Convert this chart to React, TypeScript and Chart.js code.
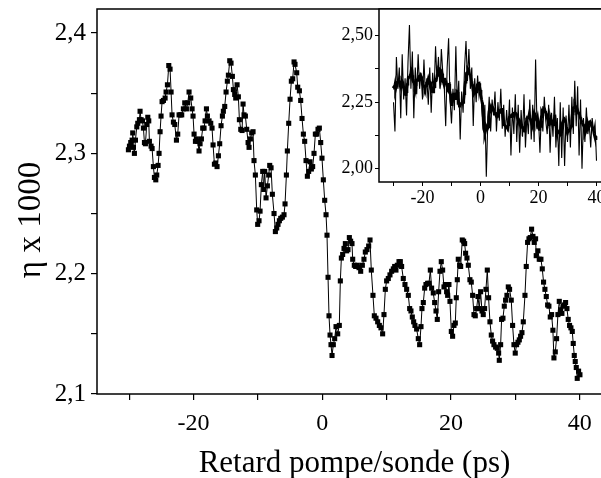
import React, { useEffect, useRef } from 'react';
import { Chart, registerables } from 'chart.js';

Chart.register(...registerables);

// ---- Main series: η x 1000 vs pump/probe delay (ps) ----
const mainX = [
  -30.12,-29.96,-29.76,-29.55,-29.45,-29.34,-29.19,-29.03,-28.82,-28.67,
  -28.41,-28.31,-28.15,-27.94,-27.79,-27.63,-27.48,-27.27,-27.11,-26.96,
  -26.86,-26.60,-26.44,-26.24,-26.08,-25.87,-25.72,-25.51,-25.36,-25.20,
  -25.05,-24.89,-24.68,-24.42,-24.27,-24.06,-23.85,-23.65,-23.49,-23.34,
  -23.13,-22.92,-22.66,-22.46,-22.25,-22.04,-21.84,-21.58,-21.37,-21.11,
  -20.90,-20.70,-20.44,-20.23,-20.08,-19.92,-19.71,-19.56,-19.35,-19.15,
  -18.99,-18.78,-18.58,-18.37,-18.21,-18.00,-17.85,-17.59,-17.33,-17.13,
  -16.97,-16.76,-16.56,-16.35,-16.14,-15.94,-15.73,-15.52,-15.37,-15.16,
  -14.95,-14.75,-14.59,-14.38,-14.18,-13.97,-13.81,-13.61,-13.45,-13.24,
  -13.04,-12.88,-12.67,-12.47,-12.31,-12.16,-11.95,-11.74,-11.53,-11.38,
  -11.17,-10.97,-10.76,-10.61,-10.40,-10.19,-10.04,-9.83,-9.67,-9.47,
  -9.26,-9.10,-8.95,-8.74,-8.53,-8.33,-8.17,-7.96,-7.76,-7.50,
  -7.29,-7.08,-6.88,-6.67,-6.46,-6.20,-5.95,-5.79,-5.58,-5.43,
  -5.22,-5.01,-4.81,-4.60,-4.39,-4.24,-3.98,-3.82,-3.56,-3.36,
  -3.15,-2.94,-2.74,-2.53,-2.32,-2.12,-1.91,-1.70,-1.50,-1.29,
  -1.08,-0.87,-0.67,-0.46,-0.25,-0.05,0.16,0.37,0.58,0.73,
  0.89,1.04,1.20,1.35,1.51,
  1.71,1.92,2.13,2.39,2.64,2.80,2.96,3.16,3.37,3.58,
  3.78,3.99,4.20,4.40,4.61,4.72,4.97,5.18,5.44,5.70,
  5.96,6.22,6.47,6.68,6.94,7.20,7.41,7.61,7.87,8.08,
  8.34,8.60,8.86,9.11,9.37,9.58,9.79,9.99,10.25,10.51,
  10.77,11.03,11.24,11.44,11.65,11.91,12.12,12.32,12.58,12.84,
  13.10,13.36,13.57,13.77,13.98,14.19,14.39,14.65,14.91,15.12,
  15.33,15.48,15.69,15.90,16.10,16.36,16.57,16.78,16.98,17.24,
  17.45,17.66,17.86,18.07,18.28,18.48,18.69,18.90,19.10,19.31,
  19.47,19.67,19.83,20.04,20.24,20.45,20.66,20.81,20.97,21.12,
  21.33,21.49,21.74,21.95,22.11,22.26,22.47,22.68,22.93,23.14,
  23.35,23.56,23.76,23.97,24.18,24.38,24.59,24.80,25.00,25.21,
  25.42,25.63,25.83,26.04,26.25,26.45,26.66,26.92,27.18,27.39,
  27.49,27.70,27.85,28.06,28.27,28.47,28.68,28.89,29.09,29.35,
  29.56,29.77,29.97,30.18,30.39,30.60,30.80,31.01,31.22,31.48,
  31.68,31.89,32.10,32.30,32.51,32.72,32.92,33.13,33.23,33.49,
  33.70,33.96,34.17,34.37,34.58,34.79,35.00,35.20,35.41,35.62,
  35.82,35.98,36.19,36.39,36.60,36.81,37.01,37.22,37.43,37.63,
  37.79,38.00,38.20,38.41,38.62,38.83,38.98,39.14,39.29,39.45,
  39.60,39.81,40.02,
];

const mainY = [
  2.303,2.306,2.309,2.311,2.317,2.305,2.300,2.311,2.322,2.325,
  2.328,2.335,2.328,2.327,2.321,2.309,2.308,2.324,2.330,2.327,
  2.310,2.306,2.304,2.289,2.280,2.278,2.282,2.290,2.300,2.318,
  2.331,2.343,2.344,2.346,2.351,2.357,2.373,2.370,2.351,2.332,
  2.326,2.324,2.311,2.316,2.332,2.332,2.332,2.337,2.342,2.337,
  2.342,2.351,2.346,2.337,2.331,2.316,2.310,2.312,2.310,2.302,
  2.308,2.312,2.321,2.321,2.327,2.337,2.331,2.327,2.325,2.321,
  2.307,2.291,2.292,2.289,2.298,2.308,2.323,2.331,2.335,2.339,
  2.351,2.360,2.365,2.377,2.375,2.364,2.353,2.349,2.346,2.357,
  2.347,2.328,2.320,2.319,2.341,2.332,2.331,2.320,2.309,2.305,
  2.312,2.317,2.318,2.294,2.282,2.253,2.241,2.244,2.252,2.274,
  2.285,2.270,2.285,2.263,2.273,2.282,2.290,2.288,2.266,2.250,
  2.235,2.238,2.241,2.244,2.246,2.247,2.249,2.258,2.282,2.302,
  2.325,2.345,2.360,2.362,2.376,2.374,2.367,2.355,2.352,2.344,
  2.329,2.316,2.310,2.294,2.281,2.285,2.293,2.287,2.289,2.300,
  2.316,2.316,2.320,2.321,2.309,2.296,2.278,2.261,2.249,2.232,
  2.197,2.165,2.149,2.141,2.132,
  2.141,2.146,2.156,2.150,2.157,2.194,2.213,2.216,2.221,2.225,
  2.219,2.220,2.230,2.227,2.225,2.212,2.207,2.206,2.207,2.205,
  2.202,2.207,2.212,2.218,2.220,2.223,2.228,2.203,2.182,2.165,
  2.163,2.160,2.157,2.155,2.150,2.166,2.187,2.194,2.196,2.199,
  2.202,2.204,2.206,2.203,2.207,2.210,2.210,2.206,2.196,2.191,
  2.187,2.182,2.171,2.169,2.164,2.160,2.157,2.154,2.146,2.141,
  2.156,2.171,2.176,2.188,2.191,2.192,2.192,2.203,2.188,2.184,
  2.176,2.169,2.162,2.185,2.202,2.210,2.203,2.189,2.191,2.185,
  2.182,2.191,2.177,2.152,2.148,2.157,2.159,2.180,2.195,2.212,
  2.207,2.206,2.228,2.227,2.225,2.217,2.213,2.207,2.195,2.193,
  2.182,2.166,2.165,2.171,2.181,2.171,2.185,2.169,2.166,2.171,
  2.187,2.203,2.180,2.160,2.149,2.144,2.141,2.139,2.138,2.134,
  2.128,2.141,2.162,2.163,2.173,2.178,2.182,2.189,2.187,2.178,
  2.157,2.141,2.134,2.141,2.143,2.145,2.148,2.151,2.160,2.182,
  2.206,2.226,2.229,2.230,2.237,2.231,2.226,2.229,2.215,2.219,
  2.212,2.212,2.204,2.193,2.187,2.181,2.174,2.173,2.164,2.166,
  2.153,2.130,2.135,2.146,2.166,2.177,2.170,2.167,2.173,2.174,
  2.176,2.171,2.162,2.157,2.155,2.152,2.142,2.132,2.127,2.122,
  2.113,2.119,2.116,
];

// ---- Inset: raw (unsmoothed) signal ----
const rawX = [
  -30,-29.5,-29,-28.5,-28,-27.5,-27,-26.5,-26,-25.5,
  -25,-24.5,-24,-23.5,-23,-22.5,-22,-21.5,-21,-20.5,
  -20,-19.5,-19,-18.5,-18,-17.5,-17,-16.5,-16,-15.5,
  -15,-14.5,-14,-13.5,-13,-12.5,-12,-11.5,-11,-10.5,
  -10,-9.5,-9,-8.5,-8,-7.5,-7,-6.5,-6,-5.5,
  -5,-4.5,-4,-3.5,-3,-2.5,-2,-1.5,-1,-0.5,
  0,0.5,1,1.5,2,2.5,3,3.5,4,4.5,
  5,5.5,6,6.5,7,7.5,8,8.5,9,9.5,
  10,10.5,11,11.5,12,12.5,13,13.5,14,14.5,
  15,15.5,16,16.5,17,17.5,18,18.5,19,19.5,
  20,20.5,21,21.5,22,22.5,23,23.5,24,24.5,
  25,25.5,26,26.5,27,27.5,28,28.5,29,29.5,
  30,30.5,31,31.5,32,32.5,33,33.5,34,34.5,
  35,35.5,36,36.5,37,37.5,38,38.5,39,39.5,
  40,
];

const rawY = [
  2.25,2.14,2.42,2.30,2.38,2.19,2.43,2.26,2.34,2.20,
  2.40,2.54,2.30,2.44,2.19,2.38,2.28,2.43,2.30,2.36,
  2.26,2.41,2.28,2.34,2.24,2.38,2.21,2.36,2.29,2.46,
  2.33,2.42,2.30,2.45,2.36,2.31,2.16,2.38,2.49,2.26,
  2.17,2.30,2.22,2.46,2.24,2.33,2.11,2.29,2.21,2.38,
  2.48,2.33,2.45,2.30,2.38,2.16,2.34,2.25,2.35,2.27,
  2.30,2.22,2.15,2.24,1.97,2.17,2.27,2.14,2.26,2.20,
  2.29,2.14,2.25,2.18,2.30,2.15,2.24,2.12,2.22,2.14,
  2.26,2.05,2.23,2.13,2.28,2.10,2.24,2.06,2.22,2.12,
  2.28,2.08,2.20,2.13,2.26,2.11,2.24,2.10,2.41,2.15,
  2.19,2.06,2.22,2.14,2.27,2.18,2.13,2.24,2.06,2.21,
  2.12,2.27,2.08,2.19,2.01,2.25,2.04,2.23,2.01,2.20,
  2.10,2.24,2.08,2.27,2.13,2.33,2.16,2.31,2.05,2.26,
  2.00,2.19,2.10,2.23,2.13,2.17,2.08,2.19,2.14,2.17,
  2.03,
];

const mainXTicks = [-30, -20, -10, 0, 10, 20, 30, 40];
const mainXLabels = [-20, 0, 20, 40];
const mainYTicks = [2.1, 2.15, 2.2, 2.25, 2.3, 2.35, 2.4];
const mainYLabels = [2.1, 2.2, 2.3, 2.4];
const insetXTicks = [-30, -20, -10, 0, 10, 20, 30, 40];
const insetXLabels = [-20, 0, 20, 40];
const insetYTicks = [2.0, 2.125, 2.25, 2.375, 2.5];
const insetYLabels = [2.0, 2.25, 2.5];

const Y_TITLE = 'η x 1000';
const X_TITLE = 'Retard pompe/sonde (ps)';

const FONT = 'Liberation Serif';

const near = (list: number[], v: number) => list.some((t) => Math.abs(t - v) < 1e-6);
const comma = (v: number, d: number) => v.toFixed(d).replace('.', ',');

const framePlugin = {
  id: 'frame',
  beforeDraw(chart: any) {
    const { ctx, chartArea } = chart;
    const { left, top, right, bottom } = chartArea;
    ctx.save();
    ctx.fillStyle = '#fff';
    ctx.fillRect(left, top, right - left, bottom - top);
    ctx.restore();
  },
  afterDraw(chart: any) {
    const { ctx, chartArea } = chart;
    const { left, top, right, bottom } = chartArea;
    ctx.save();
    ctx.strokeStyle = '#000';
    ctx.lineWidth = 1.5;
    ctx.strokeRect(left, top, right - left, bottom - top);
    ctx.restore();
  },
};

// y-axis title of the main plot, placed as in the original figure (below centre)
const yTitlePlugin = {
  id: 'yTitle',
  afterDraw(chart: any) {
    const { ctx } = chart;
    ctx.save();
    ctx.translate(31, 220);
    ctx.rotate(-Math.PI / 2);
    ctx.fillStyle = '#000';
    ctx.font = `33px "${FONT}"`;
    ctx.textAlign = 'center';
    ctx.textBaseline = 'middle';
    ctx.fillText(Y_TITLE, 0, 0);
    ctx.restore();
  },
};

const zeroPad = (s: any) => {
  s.paddingTop = 0;
  s.paddingBottom = 0;
  s.paddingLeft = 0;
  s.paddingRight = 0;
};

export default function App() {
  const mainRef = useRef<HTMLCanvasElement>(null);
  const insetRef = useRef<HTMLCanvasElement>(null);

  useEffect(() => {
    const mainData = mainX.map((x, i) => ({ x, y: mainY[i] }));
    const rawData = rawX.map((x, i) => ({ x, y: rawY[i] }));

    const main = new Chart(mainRef.current!, {
      type: 'line',
      data: {
        datasets: [
          {
            data: mainData,
            borderColor: '#000',
            borderWidth: 1,
            pointStyle: 'rect',
            pointRadius: 3.6,
            pointBackgroundColor: '#000',
            pointBorderColor: '#000',
            pointBorderWidth: 0,
            tension: 0,
            fill: false,
          },
        ],
      },
      options: {
        responsive: false,
        animation: false,
        events: [],
        layout: { padding: { left: 0, top: 9, right: 8, bottom: 0 } },
        plugins: { legend: { display: false }, tooltip: { enabled: false } },
        scales: {
          x: {
            type: 'linear',
            min: -35,
            max: 45,
            afterBuildTicks: (s: any) => {
              s.ticks = mainXTicks.map((v) => ({ value: v }));
            },
            afterFit: (s: any) => {
              s.height = 84;
              zeroPad(s);
            },
            border: { display: false },
            grid: { drawOnChartArea: false, drawTicks: true, tickLength: 6, color: '#000', lineWidth: 1.2 },
            ticks: {
              autoSkip: false,
              maxRotation: 0,
              padding: 9,
              color: '#000',
              font: { family: FONT, size: 24 },
              callback: (v: any) => (near(mainXLabels, Number(v)) ? String(v) : ''),
            },
            title: {
              display: true,
              text: X_TITLE,
              color: '#000',
              font: { family: FONT, size: 31, lineHeight: 0.9 },
              padding: { top: 0, bottom: 0 },
            },
          },
          y: {
            type: 'linear',
            min: 2.1,
            max: 2.42,
            afterBuildTicks: (s: any) => {
              s.ticks = mainYTicks.map((v) => ({ value: v }));
            },
            afterFit: (s: any) => {
              s.width = 97;
              zeroPad(s);
            },
            border: { display: false },
            grid: { drawOnChartArea: false, drawTicks: true, tickLength: 6, color: '#000', lineWidth: 1.2 },
            ticks: {
              autoSkip: false,
              padding: 5,
              color: '#000',
              font: { family: FONT, size: 25 },
              callback: (v: any) => (near(mainYLabels, Number(v)) ? comma(Number(v), 1) : ''),
            },
          },
        },
      },
      plugins: [framePlugin, yTitlePlugin],
    } as any);

    const inset = new Chart(insetRef.current!, {
      type: 'line',
      data: {
        datasets: [
          {
            data: rawData,
            borderColor: '#000',
            borderWidth: 1.1,
            pointRadius: 0,
            tension: 0,
            fill: false,
          },
          {
            data: mainData,
            borderColor: '#000',
            borderWidth: 2.8,
            pointRadius: 0,
            tension: 0,
            fill: false,
          },
        ],
      },
      options: {
        responsive: false,
        animation: false,
        events: [],
        layout: { padding: { left: 0, top: 9, right: 9, bottom: 0 } },
        plugins: { legend: { display: false }, tooltip: { enabled: false } },
        scales: {
          x: {
            type: 'linear',
            min: -35,
            max: 45,
            afterBuildTicks: (s: any) => {
              s.ticks = insetXTicks.map((v) => ({ value: v }));
            },
            afterFit: (s: any) => {
              s.height = 33;
              zeroPad(s);
            },
            border: { display: false },
            grid: { drawOnChartArea: false, drawTicks: true, tickLength: 4, color: '#000', lineWidth: 1 },
            ticks: {
              autoSkip: false,
              maxRotation: 0,
              padding: 1,
              color: '#000',
              font: { family: FONT, size: 18 },
              callback: (v: any) => (near(insetXLabels, Number(v)) ? String(v) : ''),
            },
          },
          y: {
            type: 'linear',
            min: 1.95,
            max: 2.6,
            afterBuildTicks: (s: any) => {
              s.ticks = insetYTicks.map((v) => ({ value: v }));
            },
            afterFit: (s: any) => {
              s.width = 59;
              zeroPad(s);
            },
            border: { display: false },
            grid: { drawOnChartArea: false, drawTicks: true, tickLength: 4, color: '#000', lineWidth: 1 },
            ticks: {
              autoSkip: false,
              padding: 2,
              color: '#000',
              font: { family: FONT, size: 18 },
              callback: (v: any) => (near(insetYLabels, Number(v)) ? comma(Number(v), 2) : ''),
            },
          },
        },
      },
      plugins: [framePlugin],
    } as any);

    return () => {
      main.destroy();
      inset.destroy();
    };
  }, []);

  return (
    <div
      style={{
        position: 'fixed',
        left: 0,
        top: 0,
        width: 601,
        height: 478,
        overflow: 'hidden',
        background: '#fff',
      }}
    >
      <canvas
        ref={mainRef}
        width={620}
        height={478}
        style={{ position: 'absolute', left: 0, top: 0, width: 620, height: 478 }}
      />
      <canvas
        ref={insetRef}
        width={300}
        height={215}
        style={{ position: 'absolute', left: 320, top: 0, width: 300, height: 215 }}
      />
    </div>
  );
}
